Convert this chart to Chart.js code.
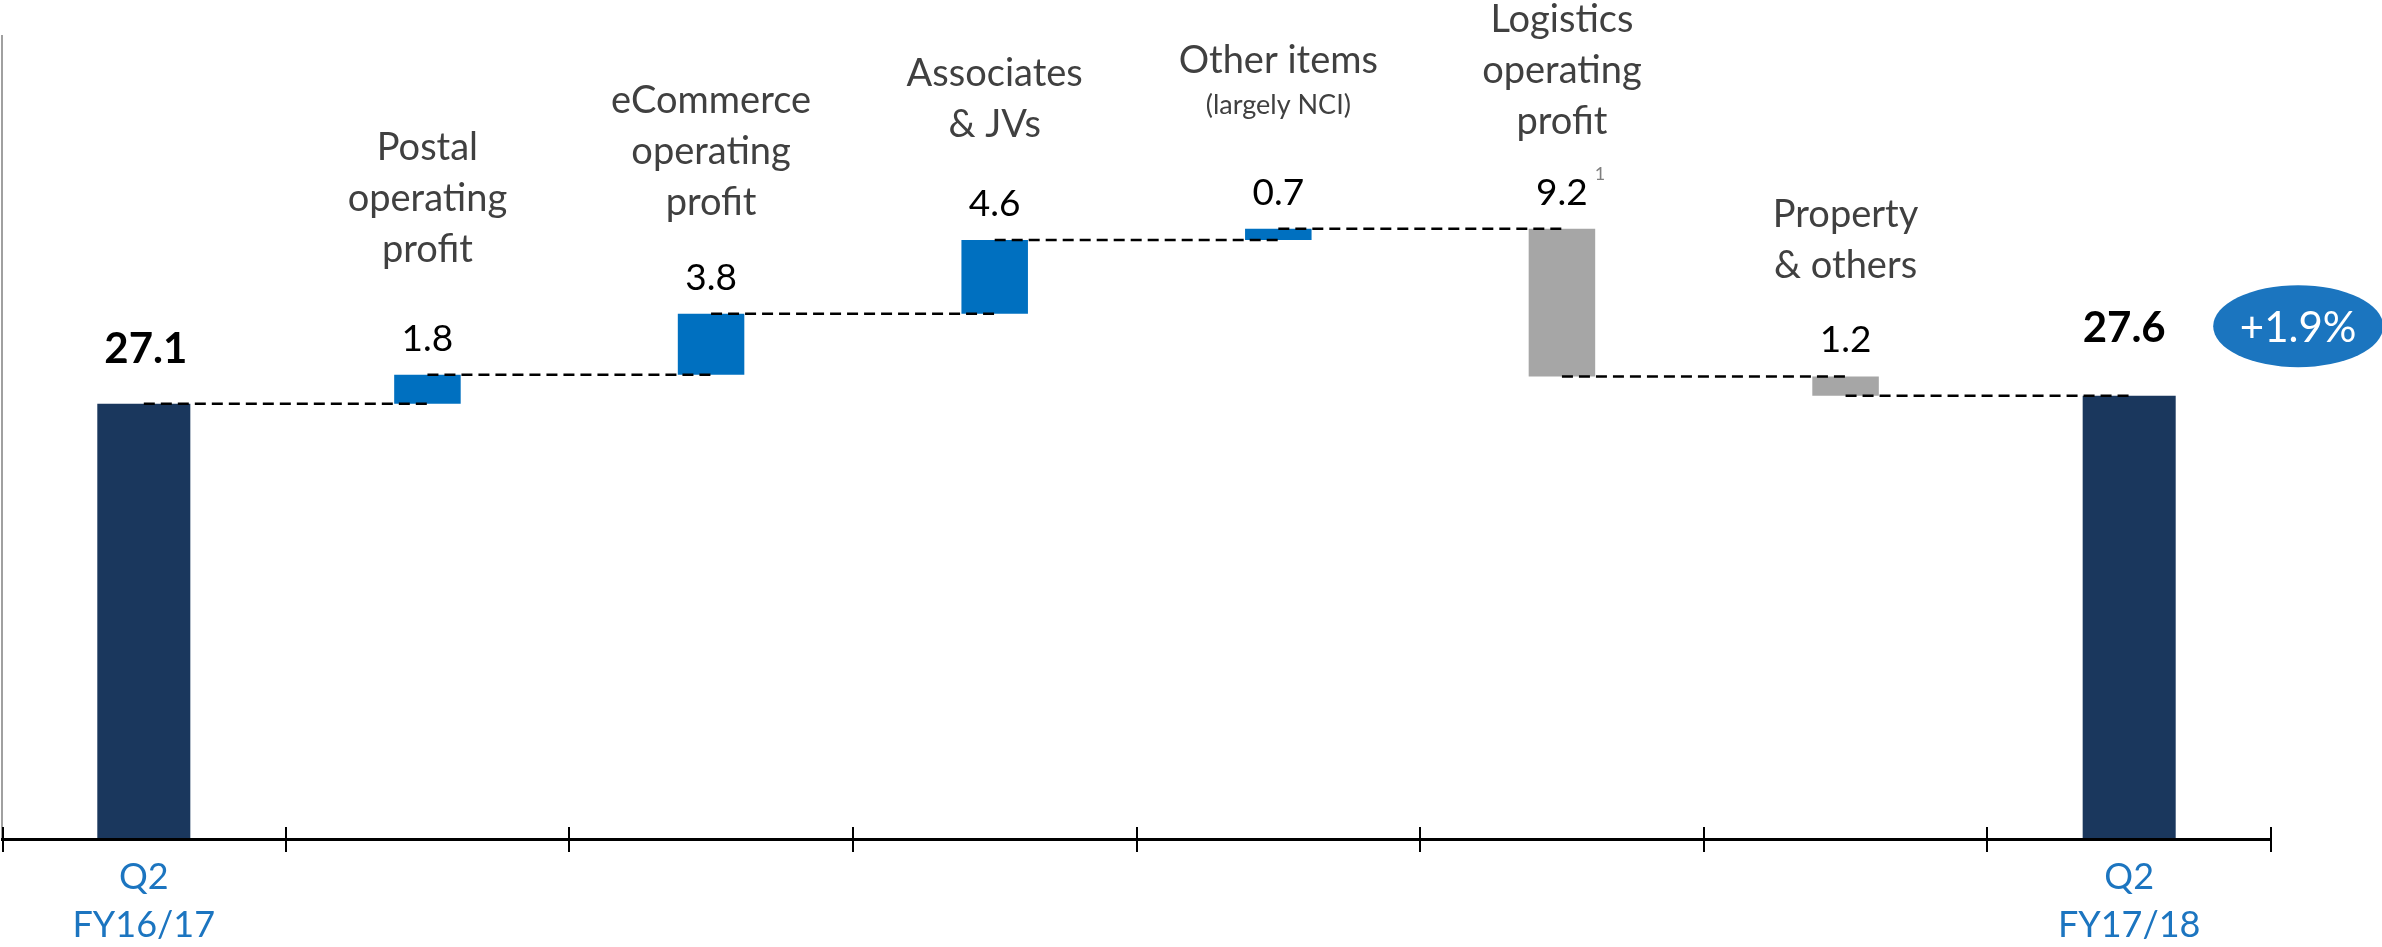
<!DOCTYPE html>
<html>
<head>
<meta charset="utf-8">
<script src="https://cdn.jsdelivr.net/npm/chart.js@4.4.1/dist/chart.umd.min.js"></script>
<style>
  html, body { margin: 0; padding: 0; background: #ffffff; }
  #wrap { width: 2382px; height: 947px; }
</style>
</head>
<body>
<div id="wrap"><canvas id="c" width="2382" height="947"></canvas></div>
<script>
// ---------- data ----------
const categories = ['Q2 FY16/17', 'Postal operating profit', 'eCommerce operating profit', 'Associates & JVs',
                    'Other items (largely NCI)', 'Logistics operating profit', 'Property & others', 'Q2 FY17/18'];
const startTotal = 27.1;
const endTotal = 27.6;
const changes = [1.8, 3.8, 4.6, 0.7, -9.2, -1.2];
const tickLabels = [['Q2', 'FY16/17'], '', '', '', '', '', '', ['Q2', 'FY17/18']];
const stepTitles = [[], ['Postal', 'operating', 'profit'], ['eCommerce', 'operating', 'profit'], ['Associates', '& JVs'],
                    ['Other items'], ['Logistics', 'operating', 'profit'], ['Property', '& others'], []];
const stepNotes = ['', '', '', '', '(largely NCI)', '', '', ''];
const footnotes = ['', '', '', '', '', '1', '', ''];
const growthLabel = '+1.9%';

// ---------- derived tables ----------
const n = categories.length;
const totalsData = categories.map((_, i) => i === 0 ? startTotal : (i === n - 1 ? endTotal : null));
const levels = [startTotal];
changes.forEach(c => levels.push(+(levels[levels.length - 1] + c).toFixed(1)));
levels.push(endTotal);
const deltaData = categories.map((_, i) => (i === 0 || i === n - 1) ? null : [levels[i - 1], levels[i]]);
const deltaColors = categories.map((_, i) => {
  if (i === 0 || i === n - 1) return 'rgba(0,0,0,0)';
  return changes[i - 1] >= 0 ? '#0070C0' : '#A6A6A6';
});
const connectorSets = [];
for (let i = 0; i < n - 1; i++) {
  const d = categories.map((_, j) => (j === i || j === i + 1) ? levels[i] : null);
  connectorSets.push({
    type: 'line', data: d, borderColor: '#000000', borderWidth: 2.5, borderDash: [11, 6],
    pointRadius: 0, spanGaps: false, fill: false, order: 0, tension: 0
  });
}

const FONT = 'Lato, "Open Sans", sans-serif';

const overlay = {
  id: 'overlay',
  afterDraw(chart, args, o) {
    const { ctx, scales: { x, y } } = chart;
    ctx.save();
    // axis tick marks crossing the x-axis line
    const axisY = y.getPixelForValue(0);
    ctx.strokeStyle = '#000000';
    ctx.lineWidth = 2;
    for (let i = 0; i <= n; i++) {
      const px = Math.round(x.getPixelForValue(i - 0.5)) + (i === 0 ? 1 : 0);
      ctx.beginPath();
      ctx.moveTo(px, axisY - 12);
      ctx.lineTo(px, axisY + 13);
      ctx.stroke();
    }
    const totMeta = chart.getDatasetMeta(0);
    const delMeta = chart.getDatasetMeta(1);
    ctx.textAlign = 'center';
    ctx.textBaseline = 'alphabetic';
    // total labels
    [0, n - 1].forEach(i => {
      const el = totMeta.data[i];
      const top = Math.min(el.y, el.base);
      ctx.font = 'bold 42px ' + FONT;
      ctx.fillStyle = '#000000';
      const off = i === 0 ? o.totalGapFirst : o.totalGapLast;
      ctx.fillText(totalsData[i].toFixed(1), el.x + (i === 0 ? 2 : -5), top - off);
      if (i === n - 1) {
        const cx = el.x + 169, cy = top - off - 15.5;
        ctx.fillStyle = '#1B75BF';
        ctx.beginPath();
        ctx.ellipse(cx, cy, 85, 41, 0, 0, Math.PI * 2);
        ctx.fill();
        ctx.fillStyle = '#ffffff';
        ctx.font = '42px ' + FONT;
        ctx.fillText(growthLabel, cx, top - off);
      }
    });
    // change labels & step titles
    for (let i = 1; i < n - 1; i++) {
      const el = delMeta.data[i];
      const top = Math.min(el.y, el.base);
      const vBase = top - 24;
      ctx.font = '37px ' + FONT;
      ctx.fillStyle = '#000000';
      const txt = Math.abs(changes[i - 1]).toFixed(1);
      ctx.fillText(txt, el.x, vBase);
      if (footnotes[i]) {
        const w = ctx.measureText(txt).width;
        ctx.font = '18px ' + FONT;
        ctx.fillStyle = '#7F7F7F';
        ctx.textAlign = 'left';
        ctx.fillText(footnotes[i], el.x + w / 2 + 7, vBase - 25);
        ctx.textAlign = 'center';
      }
      // titles
      let base = top - o.titleGap[i];
      ctx.fillStyle = '#404040';
      if (stepNotes[i]) {
        ctx.font = '27px ' + FONT;
        ctx.fillText(stepNotes[i], el.x, base);
        base -= 41;
      }
      ctx.font = '38px ' + FONT;
      const lines = stepTitles[i];
      for (let k = lines.length - 1; k >= 0; k--) {
        ctx.fillText(lines[k], el.x, base);
        base -= 51;
      }
    }
    ctx.restore();
  }
};

new Chart(document.getElementById('c'), {
  type: 'bar',
  data: {
    labels: categories,
    datasets: [
      { type: 'bar', data: totalsData, backgroundColor: '#1A375D', barPercentage: 0.328, categoryPercentage: 1, grouped: false, order: 1 },
      { type: 'bar', data: deltaData, backgroundColor: deltaColors, barPercentage: 0.2345, categoryPercentage: 1, grouped: false, order: 1 },
      ...connectorSets
    ]
  },
  options: {
    responsive: false,
    devicePixelRatio: 1,
    animation: false,
    layout: { padding: { left: 2, right: 111, top: 36, bottom: 0 } },
    plugins: {
      legend: { display: false },
      tooltip: { enabled: false },
      overlay: {
        totalGapFirst: 41, totalGapLast: 54,
        titleGap: [0, 113, 99, 103, 115, 95, 98, 0]
      }
    },
    scales: {
      x: {
        offset: true,
        grid: { display: false, drawTicks: false },
        border: { display: true, color: '#000000', width: 3, z: 1 },
        ticks: {
          autoSkip: false, maxRotation: 0, padding: 14, color: '#1C75C0',
          font: { family: FONT, size: 36, lineHeight: 1.333 },
          callback: (v, i) => tickLabels[i]
        },
        afterFit: s => { s.height = 108; }
      },
      y: {
        min: 0, max: 50,
        grid: { display: false, drawTicks: false },
        border: { display: true, color: '#A0A0A0', width: 2 },
        ticks: { display: false },
        afterFit: s => { s.width = 0; }
      }
    }
  },
  plugins: [overlay]
});
</script>
</body>
</html>
